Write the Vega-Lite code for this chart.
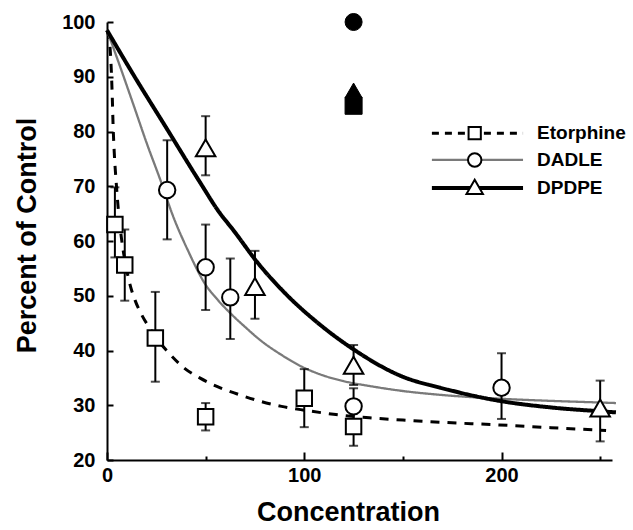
{
  "$schema": "https://vega.github.io/schema/vega-lite/v6.json",
  "width": 505,
  "height": 438,
  "autosize": {"type": "none"},
  "padding": {"left": 107, "top": 22, "right": 21, "bottom": 70},
  "background": "white",
  "config": {
    "view": {"stroke": null},
    "axis": {
      "grid": false,
      "domainColor": "black",
      "domainWidth": 2,
      "tickColor": "black",
      "tickWidth": 2,
      "labelFont": "Liberation Sans",
      "labelFontWeight": "bold",
      "labelFontSize": 20,
      "labelColor": "black",
      "titleFont": "Liberation Sans",
      "titleFontWeight": "bold",
      "titleFontSize": 27,
      "titleColor": "black"
    },
    "text": {"font": "Liberation Sans", "fontSize": 19, "fontWeight": "bold", "color": "black", "align": "left", "baseline": "middle"}
  },
  "datasets": {
    "curves": [
      {"drug": "Etorphine", "conc": 0, "pct": 98.5},
      {"drug": "Etorphine", "conc": 1.5, "pct": 95.5},
      {"drug": "Etorphine", "conc": 2.2, "pct": 91},
      {"drug": "Etorphine", "conc": 2.7, "pct": 86},
      {"drug": "Etorphine", "conc": 3.1, "pct": 81},
      {"drug": "Etorphine", "conc": 3.7, "pct": 76},
      {"drug": "Etorphine", "conc": 4.6, "pct": 71},
      {"drug": "Etorphine", "conc": 5.8, "pct": 65.5},
      {"drug": "Etorphine", "conc": 7.4, "pct": 60.3},
      {"drug": "Etorphine", "conc": 9.5, "pct": 55.6},
      {"drug": "Etorphine", "conc": 11.7, "pct": 52},
      {"drug": "Etorphine", "conc": 14.2, "pct": 49.2},
      {"drug": "Etorphine", "conc": 17.6, "pct": 46.5},
      {"drug": "Etorphine", "conc": 21.8, "pct": 44},
      {"drug": "Etorphine", "conc": 26, "pct": 41.8},
      {"drug": "Etorphine", "conc": 30.2, "pct": 40},
      {"drug": "Etorphine", "conc": 39.5, "pct": 36.7},
      {"drug": "Etorphine", "conc": 47, "pct": 35},
      {"drug": "Etorphine", "conc": 56, "pct": 33.4},
      {"drug": "Etorphine", "conc": 65.7, "pct": 32.1},
      {"drug": "Etorphine", "conc": 77, "pct": 30.8},
      {"drug": "Etorphine", "conc": 88.5, "pct": 29.8},
      {"drug": "Etorphine", "conc": 100, "pct": 29.1},
      {"drug": "Etorphine", "conc": 116, "pct": 28.3},
      {"drug": "Etorphine", "conc": 133, "pct": 27.7},
      {"drug": "Etorphine", "conc": 150, "pct": 27.3},
      {"drug": "Etorphine", "conc": 169, "pct": 26.9},
      {"drug": "Etorphine", "conc": 199, "pct": 26.4},
      {"drug": "Etorphine", "conc": 225, "pct": 25.9},
      {"drug": "Etorphine", "conc": 253, "pct": 25.4},
      {"drug": "DADLE", "conc": 0, "pct": 98.5},
      {"drug": "DADLE", "conc": 6, "pct": 92.5},
      {"drug": "DADLE", "conc": 13.3, "pct": 85},
      {"drug": "DADLE", "conc": 20, "pct": 78},
      {"drug": "DADLE", "conc": 27.7, "pct": 70.5},
      {"drug": "DADLE", "conc": 33, "pct": 65},
      {"drug": "DADLE", "conc": 41, "pct": 58.3},
      {"drug": "DADLE", "conc": 50, "pct": 52},
      {"drug": "DADLE", "conc": 56, "pct": 49.3},
      {"drug": "DADLE", "conc": 62, "pct": 47},
      {"drug": "DADLE", "conc": 70, "pct": 44.3},
      {"drug": "DADLE", "conc": 78, "pct": 41.8},
      {"drug": "DADLE", "conc": 88, "pct": 39.3},
      {"drug": "DADLE", "conc": 99, "pct": 37},
      {"drug": "DADLE", "conc": 110, "pct": 35.4},
      {"drug": "DADLE", "conc": 120, "pct": 34.4},
      {"drug": "DADLE", "conc": 135, "pct": 33.4},
      {"drug": "DADLE", "conc": 150, "pct": 32.6},
      {"drug": "DADLE", "conc": 169, "pct": 31.9},
      {"drug": "DADLE", "conc": 199, "pct": 31.2},
      {"drug": "DADLE", "conc": 225, "pct": 30.8},
      {"drug": "DADLE", "conc": 250, "pct": 30.5},
      {"drug": "DADLE", "conc": 258, "pct": 30.4},
      {"drug": "DPDPE", "conc": 0, "pct": 98.5},
      {"drug": "DPDPE", "conc": 13, "pct": 90.6},
      {"drug": "DPDPE", "conc": 30, "pct": 80.7},
      {"drug": "DPDPE", "conc": 47, "pct": 70.8},
      {"drug": "DPDPE", "conc": 57, "pct": 65.2},
      {"drug": "DPDPE", "conc": 64, "pct": 62},
      {"drug": "DPDPE", "conc": 76, "pct": 56.2},
      {"drug": "DPDPE", "conc": 91, "pct": 50.2},
      {"drug": "DPDPE", "conc": 106, "pct": 45.3},
      {"drug": "DPDPE", "conc": 125, "pct": 40.2},
      {"drug": "DPDPE", "conc": 150, "pct": 35.2},
      {"drug": "DPDPE", "conc": 169, "pct": 33.2},
      {"drug": "DPDPE", "conc": 199, "pct": 30.8},
      {"drug": "DPDPE", "conc": 225, "pct": 29.6},
      {"drug": "DPDPE", "conc": 250, "pct": 28.9},
      {"drug": "DPDPE", "conc": 258, "pct": 28.7}
    ],
    "pts": [
      {"drug": "Etorphine", "conc": 4, "pct": 63, "lo": 57, "hi": 69.8},
      {"drug": "Etorphine", "conc": 9, "pct": 55.6, "lo": 49.1, "hi": 62.1},
      {"drug": "Etorphine", "conc": 24.5, "pct": 42.3, "lo": 34.3, "hi": 50.7},
      {"drug": "Etorphine", "conc": 50, "pct": 27.9, "lo": 25.4, "hi": 30.4},
      {"drug": "Etorphine", "conc": 100, "pct": 31.3, "lo": 26, "hi": 36.6},
      {"drug": "Etorphine", "conc": 125, "pct": 26.1, "lo": 22.6, "hi": 28.9},
      {"drug": "DADLE", "conc": 30.5, "pct": 69.3, "lo": 60.3, "hi": 78.4},
      {"drug": "DADLE", "conc": 50, "pct": 55.2, "lo": 47.4, "hi": 63},
      {"drug": "DADLE", "conc": 62.5, "pct": 49.7, "lo": 42.1, "hi": 56.8},
      {"drug": "DADLE", "conc": 125, "pct": 29.8, "lo": 28.5, "hi": 33.1},
      {"drug": "DADLE", "conc": 200, "pct": 33.2, "lo": 27.5, "hi": 39.5},
      {"drug": "DPDPE", "conc": 50, "pct": 77, "lo": 72, "hi": 82.8},
      {"drug": "DPDPE", "conc": 75, "pct": 51.7, "lo": 45.8, "hi": 58.2},
      {"drug": "DPDPE", "conc": 125, "pct": 37.3, "lo": 33.7, "hi": 41},
      {"drug": "DPDPE", "conc": 250, "pct": 29.5, "lo": 23.4, "hi": 34.5}
    ],
    "ctrl": [
      {"drug": "DADLE", "conc": 125, "pct": 100},
      {"drug": "DPDPE", "conc": 125, "pct": 87.5},
      {"drug": "Etorphine", "conc": 125, "pct": 84.7}
    ]
  },
  "layer": [
    {
      "data": {"name": "curves"},
      "mark": {"type": "line", "interpolate": "monotone"},
      "encoding": {
        "x": {
          "field": "conc", "type": "quantitative",
          "scale": {"domain": [0, 256], "nice": false, "zero": false},
          "axis": {
            "values": [0, 50, 100, 150, 200, 250],
            "labelExpr": "datum.value % 100 === 0 ? datum.label : ''",
            "tickSize": {"condition": {"test": "datum.value % 100 === 0", "value": -8}, "value": -4},
            "labelPadding": 13,
            "labelFlush": false,
            "labelOverlap": false,
            "title": "Concentration",
            "titleX": 241,
            "titleY": 60,
            "titleAlign": "center",
            "titleBaseline": "alphabetic"
          }
        },
        "y": {
          "field": "pct", "type": "quantitative",
          "scale": {"domain": [20, 100], "nice": false, "zero": false},
          "axis": {
            "values": [20, 25, 30, 35, 40, 45, 50, 55, 60, 65, 70, 75, 80, 85, 90, 95, 100],
            "labelExpr": "datum.value % 10 === 0 ? datum.label : ''",
            "tickSize": {"condition": {"test": "datum.value % 10 === 0", "value": -6}, "value": -4},
            "labelPadding": 18,
            "labelOverlap": false,
            "title": "Percent of Control",
            "titleX": -72,
            "titleY": 213,
            "titleAngle": -90,
            "titleAlign": "center",
            "titleBaseline": "alphabetic"
          }
        },
        "color": {
          "field": "drug", "type": "nominal",
          "scale": {"domain": ["Etorphine", "DADLE", "DPDPE"], "range": ["black", "#7a7a7a", "black"]},
          "legend": null
        },
        "strokeWidth": {
          "field": "drug", "type": "nominal",
          "scale": {"type": "ordinal", "domain": ["Etorphine", "DADLE", "DPDPE"], "range": [3, 2.3, 4]},
          "legend": null
        },
        "strokeDash": {
          "field": "drug", "type": "nominal",
          "scale": {"domain": ["Etorphine", "DADLE", "DPDPE"], "range": [[9, 8], [1, 0], [1, 0]]},
          "legend": null
        }
      }
    },
    {
      "data": {"name": "pts"},
      "mark": {"type": "rule", "color": "black", "strokeWidth": 2},
      "encoding": {
        "x": {"field": "conc", "type": "quantitative", "title": "Concentration"},
        "y": {"field": "lo", "type": "quantitative", "title": "Percent of Control"},
        "y2": {"field": "hi"}
      }
    },
    {
      "data": {"name": "pts"},
      "mark": {"type": "tick", "orient": "horizontal", "size": 9, "thickness": 2, "color": "black"},
      "encoding": {
        "x": {"field": "conc", "type": "quantitative", "title": "Concentration"},
        "y": {"field": "lo", "type": "quantitative", "title": "Percent of Control"}
      }
    },
    {
      "data": {"name": "pts"},
      "mark": {"type": "tick", "orient": "horizontal", "size": 9, "thickness": 2, "color": "black"},
      "encoding": {
        "x": {"field": "conc", "type": "quantitative", "title": "Concentration"},
        "y": {"field": "hi", "type": "quantitative", "title": "Percent of Control"}
      }
    },
    {
      "data": {"name": "pts"},
      "mark": {"type": "point", "fill": "white", "stroke": "black", "strokeWidth": 2, "opacity": 1},
      "encoding": {
        "x": {"field": "conc", "type": "quantitative", "title": "Concentration"},
        "y": {"field": "pct", "type": "quantitative", "title": "Percent of Control"},
        "shape": {
          "field": "drug", "type": "nominal",
          "scale": {"domain": ["Etorphine", "DADLE", "DPDPE"], "range": ["square", "circle", "triangle-up"]},
          "legend": null
        },
        "size": {
          "field": "drug", "type": "nominal",
          "scale": {"type": "ordinal", "domain": ["Etorphine", "DADLE", "DPDPE"], "range": [240, 270, 380]},
          "legend": null
        }
      }
    },
    {
      "data": {"name": "ctrl"},
      "mark": {"type": "point", "filled": true, "fill": "black", "stroke": "black", "strokeWidth": 1, "size": 290, "opacity": 1},
      "encoding": {
        "x": {"field": "conc", "type": "quantitative", "title": "Concentration"},
        "y": {"field": "pct", "type": "quantitative", "title": "Percent of Control"},
        "shape": {
          "field": "drug", "type": "nominal",
          "scale": {"domain": ["Etorphine", "DADLE", "DPDPE"], "range": ["square", "circle", "triangle-up"]},
          "legend": null
        }
      }
    },
    {
      "data": {"values": [{}]},
      "mark": {"type": "rule", "color": "black", "strokeWidth": 3, "strokeDash": [7, 6]},
      "encoding": {"x": {"datum": 164.7}, "x2": {"datum": 210.9}, "y": {"datum": 79.7}}
    },
    {
      "data": {"values": [{}]},
      "mark": {"type": "rule", "color": "#7a7a7a", "strokeWidth": 2.3},
      "encoding": {"x": {"datum": 164.7}, "x2": {"datum": 210.9}, "y": {"datum": 74.8}}
    },
    {
      "data": {"values": [{}]},
      "mark": {"type": "rule", "color": "black", "strokeWidth": 4},
      "encoding": {"x": {"datum": 164.7}, "x2": {"datum": 210.9}, "y": {"datum": 69.7}}
    },
    {
      "data": {"values": [{}]},
      "mark": {"type": "point", "shape": "square", "size": 150, "fill": "white", "stroke": "black", "strokeWidth": 2, "opacity": 1},
      "encoding": {"x": {"datum": 186.4}, "y": {"datum": 79.7}}
    },
    {
      "data": {"values": [{}]},
      "mark": {"type": "point", "shape": "circle", "size": 180, "fill": "white", "stroke": "black", "strokeWidth": 2, "opacity": 1},
      "encoding": {"x": {"datum": 186.4}, "y": {"datum": 74.8}}
    },
    {
      "data": {"values": [{}]},
      "mark": {"type": "point", "shape": "triangle-up", "size": 270, "fill": "white", "stroke": "black", "strokeWidth": 2, "opacity": 1},
      "encoding": {"x": {"datum": 186.4}, "y": {"datum": 69.9}}
    },
    {
      "data": {"values": [{}]},
      "mark": {"type": "text", "text": "Etorphine"},
      "encoding": {"x": {"datum": 218}, "y": {"datum": 79.7}}
    },
    {
      "data": {"values": [{}]},
      "mark": {"type": "text", "text": "DADLE"},
      "encoding": {"x": {"datum": 218}, "y": {"datum": 74.8}}
    },
    {
      "data": {"values": [{}]},
      "mark": {"type": "text", "text": "DPDPE"},
      "encoding": {"x": {"datum": 218}, "y": {"datum": 69.7}}
    }
  ]
}
